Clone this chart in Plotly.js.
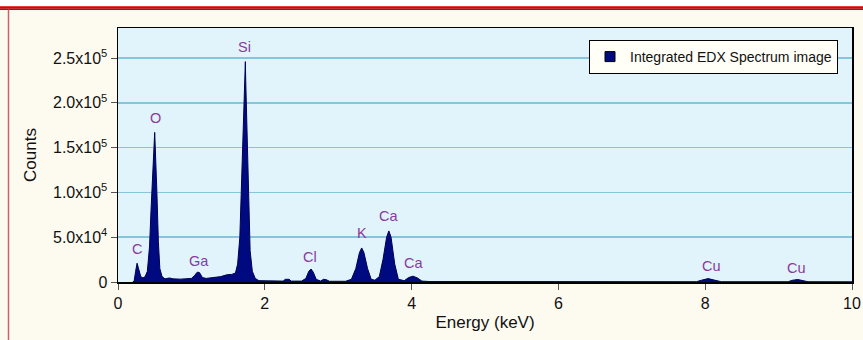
<!DOCTYPE html>
<html>
<head>
<meta charset="utf-8">
<script src="https://cdn.plot.ly/plotly-3.0.1.min.js"></script>
<style>
html,body{margin:0;padding:0;background:#ffffff;}
#chart{width:863px;height:340px;}
</style>
</head>
<body>
<div id="chart"></div>
<script>
// Spectrum (energy in keV, counts)
const energy = [0.20,0.22,0.24,0.26,0.28,0.31,0.34,0.37,0.40,0.43,0.45,0.47,0.48,0.49,0.50,0.51,0.53,0.55,0.57,0.60,0.64,0.70,0.75,0.85,0.95,1.00,1.04,1.08,1.11,1.15,1.20,1.30,1.40,1.48,1.55,1.60,1.63,1.66,1.68,1.70,1.71,1.72,1.73,1.735,1.74,1.76,1.78,1.80,1.83,1.87,1.92,2.00,2.10,2.25,2.28,2.33,2.36,2.50,2.56,2.60,2.63,2.66,2.70,2.76,2.80,2.84,2.88,3.10,3.18,3.24,3.29,3.32,3.35,3.40,3.45,3.50,3.56,3.61,3.66,3.69,3.72,3.77,3.82,3.90,3.96,4.02,4.08,4.14,4.25,5.0,7.0,7.88,7.95,8.04,8.12,8.22,9.13,9.18,9.26,9.34,9.40,10.0];
const counts = [0,1000,12000,21000,15000,6000,4500,6000,12000,40000,80000,125000,145000,150000,167000,148000,100000,45000,15000,6000,3500,4500,3500,3200,3500,4000,7000,11000,10500,5000,4000,5000,6000,8000,8500,10000,20000,50000,110000,150000,198000,225000,240000,246000,225000,150000,80000,35000,12000,4000,1500,1200,1000,1000,3000,3000,1000,1000,4000,12000,14500,11000,3000,1000,3000,2500,800,800,3000,15000,33000,38000,33000,15000,3000,2000,6000,25000,50000,57000,50000,20000,3000,1500,5000,6500,4500,1000,500,300,200,300,2000,3800,2200,300,300,1800,2800,1500,300,200];

// Peak labels
const peakNames = ["C","O","Ga","Si","Cl","K","Ca","Ca","Cu","Cu"];
const peakEnergy = [0.26,0.51,1.11,1.73,2.62,3.32,3.69,4.03,8.08,9.25];
const peakLabelCounts = [26000,172000,12000,251000,17000,44000,62000,10500,7000,5000];

// Axis ticks
const yTickVals = [0,50000,100000,150000,200000,250000];
const yTickText = ["0","5.0x10<sup>4</sup>","1.0x10<sup>5</sup>","1.5x10<sup>5</sup>","2.0x10<sup>5</sup>","2.5x10<sup>5</sup>"];
const xTickVals = [0,2,4,6,8,10];

const seriesName = "Integrated EDX Spectrum image";

const font = "Liberation Sans, Arial, sans-serif";

const trace = {
  x: energy, y: counts, type: "scatter", mode: "lines",
  fill: "tozeroy", fillcolor: "#000a80",
  line: {color: "#000050", width: 1},
  name: seriesName, showlegend: false
};
// legend-only entry with a square swatch
const legendTrace = {
  x: [null], y: [null], type: "scatter", mode: "markers",
  marker: {symbol: "square", size: 10, color: "#000a80", line: {color: "#000", width: 1}},
  name: seriesName, showlegend: true
};

const annotations = peakNames.map((n, i) => ({
  x: peakEnergy[i], y: peakLabelCounts[i], xref: "x", yref: "y",
  text: n, showarrow: false, yanchor: "bottom",
  font: {family: font, size: 14.5, color: "#8a3a9c"}
}));

// frame decorations (paper coords): plot px x 118..852, y 28..282
const px2x = p => (p - 118) / 734;
const px2y = p => (282 - p) / 254;

const shapes = [
  {type:"rect", xref:"paper", yref:"paper", x0:px2x(-5), x1:px2x(870), y0:px2y(7), y1:px2y(-5), fillcolor:"#ffffff", line:{width:0}, layer:"below"},
  {type:"line", xref:"paper", yref:"paper", x0:px2x(0), x1:px2x(863), y0:px2y(7.5), y1:px2y(7.5), line:{color:"#e00000", width:2.5}},
  {type:"line", xref:"paper", yref:"paper", x0:px2x(0), x1:px2x(863), y0:px2y(9.3), y1:px2y(9.3), line:{color:"#300000", width:1}},
  {type:"line", xref:"paper", yref:"paper", x0:px2x(8.5), x1:px2x(8.5), y0:px2y(9.5), y1:px2y(345), line:{color:"#d06060", width:1.5}}
];

const layout = {
  width: 863, height: 340,
  margin: {l:118, r:11, t:28, b:58, pad:0},
  paper_bgcolor: "#fdfbf0",
  plot_bgcolor: "#e1f4fb",
  font: {family: font, size: 16, color: "#111111"},
  xaxis: {
    range: [0, 10], tickvals: xTickVals, ticktext: xTickVals.map(String),
    ticks: "outside", ticklen: 6, tickcolor: "#555",
    showline: true, linecolor: "#000", linewidth: 1.5, mirror: true,
    showgrid: false, zeroline: false,
    tickfont: {family: font, size: 16, color: "#111"},
    title: {text: "Energy (keV)", font: {family: font, size: 17, color: "#111"}, standoff: 5}
  },
  yaxis: {
    range: [0, 283500], tickvals: yTickVals, ticktext: yTickText,
    ticks: "outside", ticklen: 6, tickcolor: "#555",
    showline: true, linecolor: "#000", linewidth: 1.5, mirror: true,
    showgrid: true, gridcolor: "#86c6dc", gridwidth: 1.5, zeroline: false,
    tickfont: {family: font, size: 16, color: "#111"},
    title: {text: "Counts", font: {family: font, size: 17, color: "#111"}, standoff: 12}
  },
  showlegend: true,
  legend: {
    x: px2x(589), y: px2y(40), xanchor: "left", yanchor: "top",
    bgcolor: "#fffff8", bordercolor: "#000", borderwidth: 1,
    font: {family: font, size: 14, color: "#111"},
    itemwidth: 30
  },
  annotations: annotations,
  shapes: shapes
};

Plotly.newPlot("chart", [trace, legendTrace], layout, {staticPlot: true, displayModeBar: false});
</script>
</body>
</html>
